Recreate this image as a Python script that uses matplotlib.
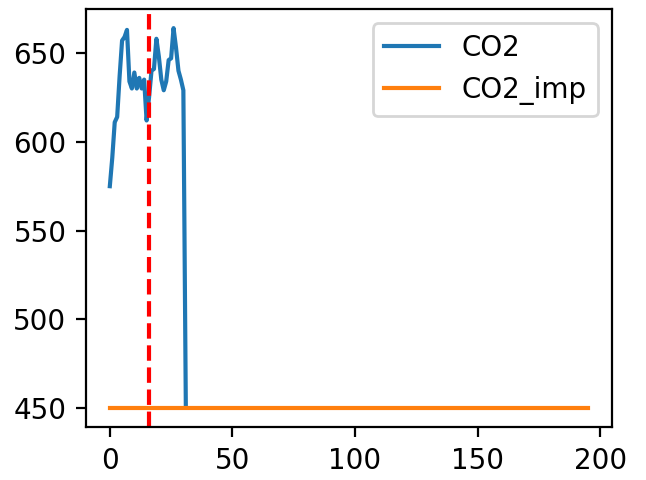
import matplotlib
matplotlib.use("Agg")
import matplotlib.pyplot as plt
import numpy as np

# CO2 readings (first 32 samples), then missing
co2 = [575, 591, 611, 614, 637, 657, 659, 663, 634, 630,
       639, 630, 636, 630, 635, 612, 625, 640, 641, 658,
       648, 635, 629, 634, 646, 647, 664, 653, 640, 635,
       629, 451]
n_total = 196
co2_imp_value = 450
split_at = 16

co2_full = np.full(n_total, np.nan)
co2_full[:len(co2)] = co2
co2_imp = np.full(n_total, co2_imp_value, dtype=float)
x = np.arange(n_total)

dpi = 200
fig = plt.figure(figsize=(646 / dpi, 480 / dpi), dpi=dpi)
ax = fig.add_axes([0.133, 0.110, 0.814, 0.871])
ax.plot(x, co2_full, label="CO2")
ax.plot(x, co2_imp, label="CO2_imp")
ax.axvline(split_at, color="red", linestyle="--")
ax.legend(loc="upper right")
fig.savefig("out.png", dpi=dpi)
